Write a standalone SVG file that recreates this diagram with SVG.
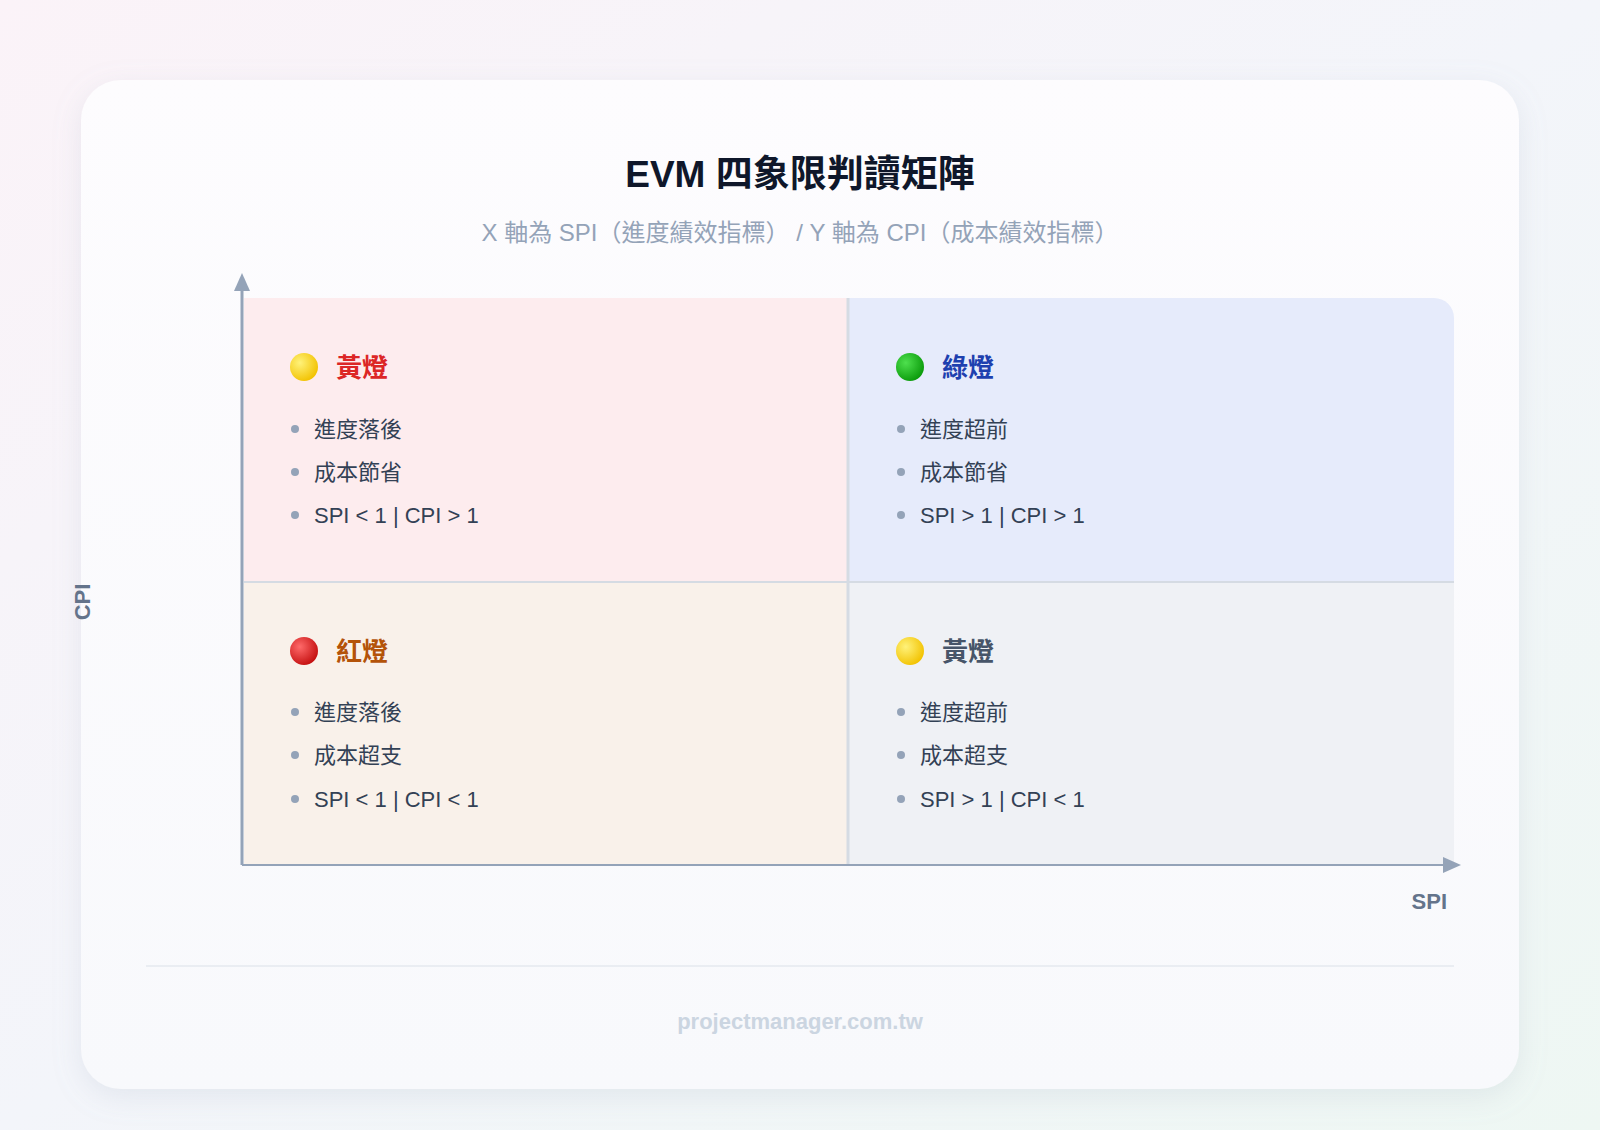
<svg xmlns="http://www.w3.org/2000/svg" width="1600" height="1130" viewBox="0 0 1600 1130">
<defs>
<linearGradient id="bg" x1="0" y1="0" x2="1" y2="1"><stop offset="0" stop-color="#fbf3f8"/><stop offset="0.5" stop-color="#f3f5fa"/><stop offset="1" stop-color="#eef7f3"/></linearGradient>
<linearGradient id="card" x1="0" y1="0" x2="0" y2="1"><stop offset="0" stop-color="#fdfcfe"/><stop offset="1" stop-color="#f8f9fc"/></linearGradient>
<radialGradient id="yel" cx="0.35" cy="0.35" r="0.7"><stop offset="0" stop-color="#fff27a"/><stop offset="1" stop-color="#f2c200"/></radialGradient>
<radialGradient id="grn" cx="0.35" cy="0.35" r="0.7"><stop offset="0" stop-color="#4ee04e"/><stop offset="1" stop-color="#0a9a0a"/></radialGradient>
<radialGradient id="red" cx="0.35" cy="0.35" r="0.7"><stop offset="0" stop-color="#ff6a6a"/><stop offset="1" stop-color="#c40f0f"/></radialGradient>
<filter id="sh" x="-10%" y="-10%" width="120%" height="120%"><feDropShadow dx="0" dy="8" stdDeviation="14" flood-color="#94a3b8" flood-opacity="0.18"/></filter>
<marker id="ar" markerWidth="18" markerHeight="18" refX="9" refY="8" orient="auto" markerUnits="userSpaceOnUse"><path d="M0,0 L18,8 L0,16 z" fill="#94a3b8"/></marker>
</defs>
<style>
text{font-family:"Liberation Sans","Noto Sans CJK TC",sans-serif}
.qt{font-size:26px;font-weight:700}
.it{font-size:22px;fill:#334155}
.dot{fill:#94a3b8}
</style>
<rect width="1600" height="1130" fill="url(#bg)"/>
<rect x="81" y="80" width="1438" height="1009" rx="40" fill="url(#card)" filter="url(#sh)"/>
<text x="800" y="187" text-anchor="middle" font-size="37" font-weight="700" fill="#0f172a">EVM 四象限判讀矩陣</text>
<text x="800" y="241" text-anchor="middle" font-size="24" fill="#94a3b8">X 軸為 SPI（進度績效指標） / Y 軸為 CPI（成本績效指標）</text>
<g id="quadrants">
<rect x="244" y="298" width="604" height="284" fill="#fdecee"/>
<path d="M848 298 H1434 a20 20 0 0 1 20 20 V582 H848 z" fill="#e6ebfb"/>
<rect x="244" y="582" width="604" height="283" fill="#f9f1ea"/>
<rect x="848" y="582" width="606" height="283" fill="#eff1f5"/>
<line x1="848" y1="298" x2="848" y2="865" stroke="#d5dbe3" stroke-width="3"/>
<line x1="244" y1="582" x2="1454" y2="582" stroke="#d5dbe3" stroke-width="2"/>
</g>
<g id="connectors">
<line x1="242" y1="865" x2="242" y2="282" stroke="#94a3b8" stroke-width="3" marker-end="url(#ar)"/>
<line x1="242" y1="865" x2="1452" y2="865" stroke="#94a3b8" stroke-width="2" marker-end="url(#ar)"/>
</g>
<text transform="translate(90,602) rotate(-90)" text-anchor="middle" font-size="22" font-weight="700" fill="#64748b">CPI</text>
<text x="1447" y="909" text-anchor="end" font-size="22" font-weight="700" fill="#64748b">SPI</text>
<g id="q-tl">
<circle cx="304" cy="367" r="14" fill="url(#yel)"/>
<text x="336" y="377" class="qt" fill="#dc2626">黃燈</text>
<circle cx="295" cy="429" r="4" class="dot"/><text x="314" y="437" class="it">進度落後</text>
<circle cx="295" cy="472" r="4" class="dot"/><text x="314" y="480" class="it">成本節省</text>
<circle cx="295" cy="515" r="4" class="dot"/><text x="314" y="523" class="it">SPI &lt; 1 | CPI &gt; 1</text>
</g>
<g id="q-tr">
<circle cx="910" cy="367" r="14" fill="url(#grn)"/>
<text x="942" y="377" class="qt" fill="#1e40af">綠燈</text>
<circle cx="901" cy="429" r="4" class="dot"/><text x="920" y="437" class="it">進度超前</text>
<circle cx="901" cy="472" r="4" class="dot"/><text x="920" y="480" class="it">成本節省</text>
<circle cx="901" cy="515" r="4" class="dot"/><text x="920" y="523" class="it">SPI &gt; 1 | CPI &gt; 1</text>
</g>
<g id="q-bl">
<circle cx="304" cy="651" r="14" fill="url(#red)"/>
<text x="336" y="661" class="qt" fill="#b45309">紅燈</text>
<circle cx="295" cy="712" r="4" class="dot"/><text x="314" y="720" class="it">進度落後</text>
<circle cx="295" cy="755" r="4" class="dot"/><text x="314" y="763" class="it">成本超支</text>
<circle cx="295" cy="799" r="4" class="dot"/><text x="314" y="807" class="it">SPI &lt; 1 | CPI &lt; 1</text>
</g>
<g id="q-br">
<circle cx="910" cy="651" r="14" fill="url(#yel)"/>
<text x="942" y="661" class="qt" fill="#475569">黃燈</text>
<circle cx="901" cy="712" r="4" class="dot"/><text x="920" y="720" class="it">進度超前</text>
<circle cx="901" cy="755" r="4" class="dot"/><text x="920" y="763" class="it">成本超支</text>
<circle cx="901" cy="799" r="4" class="dot"/><text x="920" y="807" class="it">SPI &gt; 1 | CPI &lt; 1</text>
</g>
<line x1="146" y1="966" x2="1454" y2="966" stroke="#e5e9ef" stroke-width="1.5"/>
<text x="800" y="1029" text-anchor="middle" font-size="22" font-weight="700" fill="#cbd5e1">projectmanager.com.tw</text>
</svg>
